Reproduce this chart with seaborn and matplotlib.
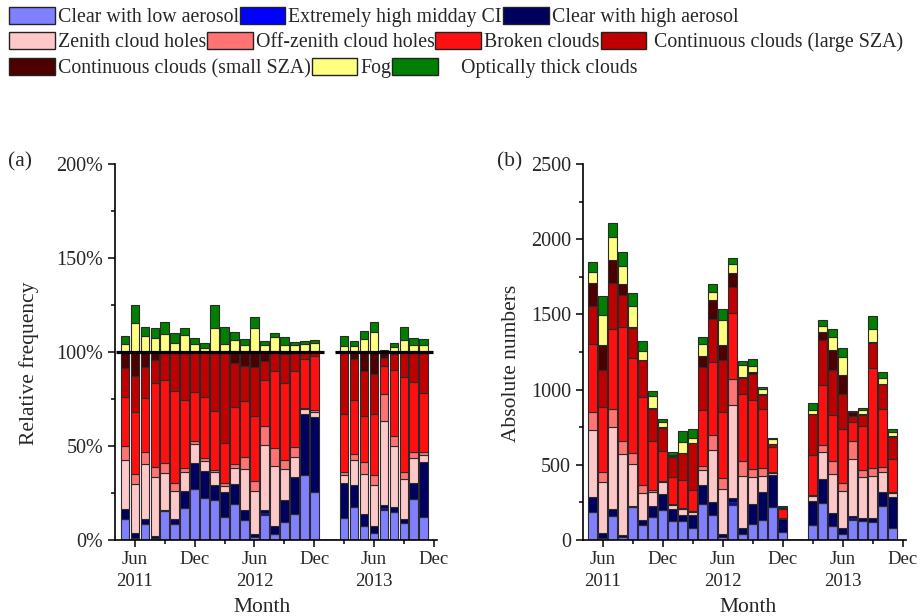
import numpy as np
import pandas as pd
import matplotlib
matplotlib.use("Agg")
import matplotlib.pyplot as plt
from matplotlib.patches import Patch
from matplotlib.ticker import MultipleLocator, FixedLocator, FuncFormatter
import seaborn as sns

# ---------------- data ----------------
# month index: 0 = Jan 2011
month_index = [4, 5, 6, 7, 8, 9, 10, 11, 12, 13, 14, 15, 16, 17, 18, 19, 20, 21, 22, 23,
               26, 27, 28, 29, 30, 31, 32, 33, 34]

classes = ["Clear with low aerosol", "Extremely high midday CI", "Clear with high aerosol",
           "Zenith cloud holes", "Off-zenith cloud holes", "Broken clouds",
           "Continuous clouds (large SZA)", "Continuous clouds (small SZA)", "Fog",
           "Optically thick clouds"]
colors = ["#8080FF", "#0000FF", "#00005E", "#FFC8C8", "#FF7373", "#FF1010",
          "#BE0000", "#4D0000", "#FFFF80", "#008000"]

# relative frequency (%)
pct_clear_low = [11.0, 0.9, 8.5, 1.2, 15.3, 8.5, 17.2, 26.9, 22.5, 21.4, 12.0, 19.4, 10.5, 1.5, 13.2,
                 3.4, 9.5, 13.7, 34.5, 25.6, 11.7, 17.6, 7.4, 3.9, 15.8, 14.9, 9.3, 21.7, 12.0]
pct_high_ci = [0, 0, 0, 0, 0, 0, 0, 0, 0, 0, 0, 0, 0, 0, 1.2,
               0, 0, 0, 0, 0, 0, 0, 0, 0, 1.2, 0, 0, 0, 0]
pct_clear_high = [5.7, 2.7, 2.5, 0.9, 0.8, 2.8, 8.9, 14.0, 14.0, 7.7, 13.3, 10.3, 5.3, 1.8, 1.4,
                  4.2, 12.0, 19.6, 32.6, 39.7, 18.8, 11.6, 6.7, 3.5, 1.4, 2.7, 1.7, 8.7, 29.6]
pct_zenith = [26.0, 26.0, 29.4, 31.5, 19.5, 15.0, 10.2, 10.3, 5.4, 7.0, 3.5, 8.5, 21.7, 22.8, 34.8,
              31.8, 16.0, 10.7, 2.5, 3.0, 4.2, 13.1, 20.8, 22.1, 44.8, 32.6, 21.4, 13.3, 3.6]
pct_offzenith = [7.0, 5.3, 6.5, 5.3, 5.2, 4.2, 1.8, 1.3, 1.6, 0.9, 1.3, 2.3, 6.4, 5.5, 9.8,
                 9.3, 5.0, 5.2, 0.8, 0.9, 1.2, 3.2, 6.8, 5.0, 14.2, 5.3, 4.0, 2.8, 1.4]
pct_broken = [26.5, 33.5, 28.5, 44.5, 44.5, 48.5, 36.5, 26.2, 32.4, 31.6, 21.4, 30.0, 30.2, 34.2, 24.8,
              41.3, 40.9, 40.9, 26.0, 28.4, 31.3, 29.0, 24.5, 32.5, 15.0, 35.1, 50.2, 37.2, 31.5]
pct_cont_large = [15.0, 18.7, 16.4, 12.5, 14.0, 20.5, 24.9, 20.8, 23.6, 30.9, 48.0, 23.8, 18.2, 26.2, 9.8,
                  9.4, 15.5, 9.4, 3.1, 2.4, 32.3, 21.8, 23.6, 21.3, 4.2, 8.4, 13.0, 15.7, 21.4]
pct_cont_small = [8.7, 13.0, 8.2, 4.1, 0.7, 0.5, 0.5, 0.5, 0.5, 0.5, 0.5, 5.7, 7.7, 8.0, 5.0,
                  0.6, 1.1, 0.5, 0.5, 0.0, 0.5, 3.7, 10.3, 11.7, 3.2, 1.0, 0.5, 0.5, 0.5]
pct_fog = [4.3, 15.5, 8.4, 7.3, 9.6, 4.8, 8.9, 4.3, 2.0, 12.6, 4.4, 6.6, 3.6, 12.5, 3.6,
           7.8, 3.9, 3.6, 4.5, 4.8, 3.0, 3.0, 6.9, 10.7, 0.3, 2.5, 6.6, 3.6, 3.9]
pct_thick = [4.1, 9.6, 4.8, 5.3, 6.4, 5.3, 3.8, 3.2, 2.8, 12.2, 9.1, 3.9, 3.4, 6.0, 2.0,
             2.3, 3.9, 1.6, 1.2, 1.8, 5.3, 2.7, 4.4, 5.4, 0.6, 2.3, 6.6, 3.9, 3.0]

# number of cases of the eight non-fog, non-thick classes (panel b, top of dark brown)
core_total = [1707, 1296, 1860, 1700, 1418, 1200, 878, 751, 556, 578, 648, 1222, 1593, 1298, 1773,
              1082, 1115, 968, 640, 211, 840, 1384, 1260, 1100, 849, 840, 1318, 1040, 689]

tick_months = [5, 11, 17, 23, 29, 35]
tick_labels = ["Jun\n2011", "Dec", "Jun\n2012", "Dec", "Jun\n2013", "Dec"]
minor_tick_months = [8, 14, 20, 26, 32]

# ---------------- build table ----------------
series = [pct_clear_low, pct_high_ci, pct_clear_high, pct_zenith, pct_offzenith, pct_broken,
          pct_cont_large, pct_cont_small, pct_fog, pct_thick]
pct = np.array(series, dtype=float)           # (10, n)
core_sum = pct[:8].sum(axis=0)
rel = pct / core_sum * 100.0                  # core classes add to 100 %
absn = rel / 100.0 * np.array(core_total)

rows = []
for ci, cname in enumerate(classes):
    for j, m in enumerate(month_index):
        rows.append({"month": m, "class": cname, "rel": rel[ci, j], "abs": absn[ci, j]})
df = pd.DataFrame(rows)

# ---------------- style ----------------
sns.set_theme(style="ticks")
plt.rcParams["font.family"] = ["Liberation Serif", "DejaVu Serif"]
plt.rcParams["axes.linewidth"] = 1.2

fig = plt.figure(figsize=(9.21, 6.16), dpi=100)
ax_a = fig.add_axes([0.1249, 0.1234, 0.3493, 0.6104])
ax_b = fig.add_axes([0.6327, 0.1234, 0.3507, 0.6104])

palette = dict(zip(classes, colors))
hue_order = classes[::-1]   # seaborn stacks the first hue level on top

for ax, col in [(ax_a, "rel"), (ax_b, "abs")]:
    sns.histplot(data=df, x="month", weights=col, hue="class", hue_order=hue_order,
                 multiple="stack", discrete=True, shrink=0.87, palette=palette,
                 alpha=1, edgecolor="#2a2a2a", linewidth=0.8, legend=False, ax=ax)
    ax.set_xlim(3, 35.3)
    ax.xaxis.set_major_locator(FixedLocator(tick_months))
    ax.set_xticklabels(tick_labels, linespacing=1.35)
    ax.xaxis.set_minor_locator(FixedLocator(minor_tick_months))
    ax.tick_params(axis="both", which="major", direction="out", length=5, width=1.1,
                   color="black")
    ax.tick_params(axis="both", which="minor", direction="out", length=3, width=1.1,
                   color="black")
    ax.tick_params(axis="x", labelsize=13.5, pad=3)
    ax.tick_params(axis="y", labelsize=14.5)
    for s in ("left", "bottom"):
        ax.spines[s].set_color("black")
    sns.despine(ax=ax)
    ax.set_xlabel("Month", fontsize=15.5)

# reference line at 100 % for each contiguous run of months
runs = []
start = prev = month_index[0]
for m in month_index[1:]:
    if m != prev + 1:
        runs.append((start, prev))
        start = m
    prev = m
runs.append((start, prev))
for s, e in runs:
    ax_a.plot([s - 0.95, e + 0.95], [100, 100], color="black", lw=2.3,
              solid_capstyle="butt", zorder=6)

ax_a.set_ylim(0, 200)
ax_a.yaxis.set_major_locator(MultipleLocator(50))
ax_a.yaxis.set_minor_locator(MultipleLocator(25))
ax_a.yaxis.set_major_formatter(FuncFormatter(lambda v, p: f"{v:.0f}%"))
ax_a.set_ylabel("Relative frequency", fontsize=15.5)
ax_a.yaxis.set_label_coords(-0.235, 0.47)
ax_a.xaxis.set_label_coords(0.457, -0.155)

ax_b.set_ylim(0, 2500)
ax_b.yaxis.set_major_locator(MultipleLocator(500))
ax_b.yaxis.set_minor_locator(MultipleLocator(250))
ax_b.set_ylabel("Absolute numbers", fontsize=15.5)
ax_b.yaxis.set_label_coords(-0.19, 0.47)
ax_b.xaxis.set_label_coords(0.512, -0.155)

fig.text(0.009, 0.737, "(a)", fontsize=15.5, va="center", ha="left")
fig.text(0.540, 0.737, "(b)", fontsize=15.5, va="center", ha="left")

# ---------------- legend (three rows) ----------------
legend_rows = [[0, 1, 2], [3, 4, 5, 6], [7, 8, 9]]
row_y = [0.9724, 0.9318, 0.8896]
for idxs, y in zip(legend_rows, row_y):
    handles = [Patch(facecolor=colors[i], edgecolor="#222222", linewidth=1.0) for i in idxs]
    labels = [classes[i] for i in idxs]
    labels = [(" " + l) if l.startswith("Continuous clouds (large") else l for l in labels]
    labels = [("    " + l) if l.startswith("Optically") else l for l in labels]
    fig.legend(handles, labels, loc="center left", bbox_to_anchor=(0.0098, y),
               ncol=len(idxs), frameon=False, fontsize=14.3, handlelength=2.3,
               handleheight=1.0, handletextpad=0.15, columnspacing=0.05,
               borderaxespad=0, borderpad=0)

fig.savefig("out.png", dpi=100)
